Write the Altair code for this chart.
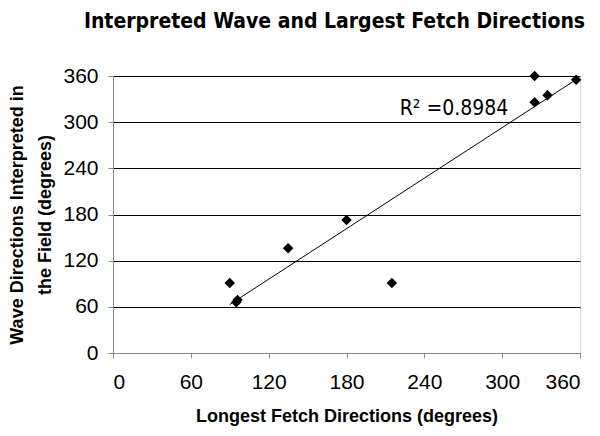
import altair as alt
import pandas as pd

fetch_dir = [90, 95, 96, 135, 180, 215, 325, 325, 335, 357]
wave_dir = [91, 66, 69, 136, 173, 91, 360, 326, 335, 355]
tick_vals = [0, 60, 120, 180, 240, 300, 360]

df = pd.DataFrame({"fetch": fetch_dir, "wave": wave_dir})
label_df = pd.DataFrame({"fetch": [221], "wave": [309], "label": ["R² =0.8984"]})

FONT = "Liberation Sans Narrow, DejaVu Sans Condensed, Liberation Sans, sans-serif"

xscale = alt.Scale(domain=[0, 360], nice=False, zero=False)
yscale = alt.Scale(domain=[0, 360], nice=False, zero=False)

xax = alt.Axis(values=tick_vals, grid=False, title="Longest Fetch Directions (degrees)",
               labelFontSize=21, titleFontSize=18, labelPadding=13, titlePadding=15)
yax = alt.Axis(values=tick_vals, grid=True, gridColor="black", gridWidth=1,
               title=["Wave Directions Interpreted in", "the Field (degrees)"],
               labelFontSize=21, titleFontSize=18, labelPadding=10, titlePadding=8,
               titleLineHeight=28)

base = alt.Chart(df)
points = base.mark_point(shape="diamond", filled=True, color="black", size=110, opacity=1).encode(
    x=alt.X("fetch:Q", scale=xscale, axis=xax),
    y=alt.Y("wave:Q", scale=yscale, axis=yax),
)
trend = base.transform_regression("fetch", "wave").mark_line(color="black", strokeWidth=1).encode(
    x=alt.X("fetch:Q", scale=xscale),
    y=alt.Y("wave:Q", scale=yscale),
)
r2 = alt.Chart(label_df).mark_text(align="left", baseline="alphabetic", fontSize=21, font=FONT,
                                    color="black").encode(
    x=alt.X("fetch:Q", scale=xscale),
    y=alt.Y("wave:Q", scale=yscale),
    text="label:N",
)

chart = alt.layer(trend, points, r2).properties(
    width=467, height=277,
    autosize=alt.AutoSizeParams(type="none"),
    padding={"left": 105, "top": 68, "right": 12, "bottom": 75},
    title=alt.TitleParams("Interpreted Wave and Largest Fetch Directions", font=FONT,
                          fontSize=21, fontWeight="bold", color="black", anchor="middle",
                          dx=-12, offset=33),
).configure_view(fill="#969696", stroke="#808080", strokeWidth=1
).configure_axis(
    labelFont=FONT, titleFont=FONT, labelColor="black", titleColor="black",
    domainColor="black", tickColor="black", tickSize=6, titleFontWeight="bold",
    domainWidth=1, tickWidth=1,
).configure(background="white")

chart.save("out.html", embed_options={"renderer": "svg", "actions": False})
